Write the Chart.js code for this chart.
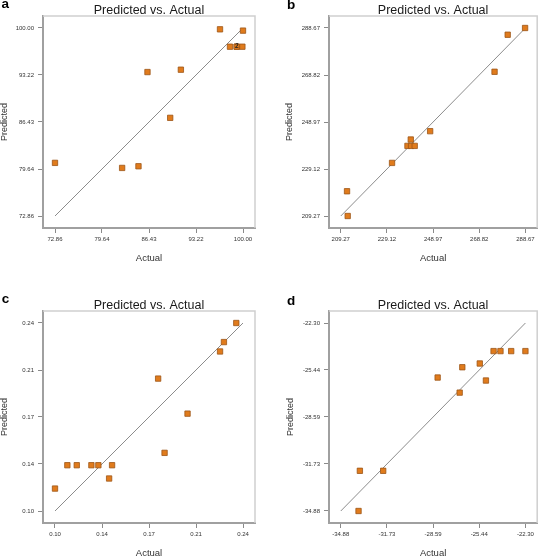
<!DOCTYPE html>
<html>
<head>
<meta charset="utf-8">
<script src="https://cdn.jsdelivr.net/npm/chart.js@4.4.1/dist/chart.umd.min.js"></script>
<style>
  html, body { margin: 0; padding: 0; background: #fff; overflow: hidden; }
  body { position: relative; width: 542px; height: 557px; }
  .panel { position: absolute; }
</style>
</head>
<body>
<div class="panel" style="left:0;top:0"><canvas id="chartA" width="271" height="278"></canvas></div>
<div class="panel" style="left:271px;top:0"><canvas id="chartB" width="271" height="278"></canvas></div>
<div class="panel" style="left:0;top:278px"><canvas id="chartC" width="271" height="290"></canvas></div>
<div class="panel" style="left:271px;top:278px"><canvas id="chartD" width="271" height="290"></canvas></div>
<script>
// Painel a
const ticksA = [72.86, 79.645, 86.43, 93.215, 100.00];
const tickLabelsA = ["72.86", "79.64", "86.43", "93.22", "100.00"];
const actualA = [72.86, 82.55, 84.91, 86.21, 91.03, 89.49, 96.68, 100.00, 98.12, 99.09, 99.09, 99.91];
const predictedA = [80.53, 79.80, 80.04, 93.64, 93.98, 87.03, 99.81, 99.62, 97.30, 97.30, 97.30, 97.30];
const countsA = [{ x: 99.09, y: 97.30, n: "2" }];

// Painel b
const ticksB = [209.27, 229.12, 248.97, 268.82, 288.67];
const tickLabelsB = ["209.27", "229.12", "248.97", "268.82", "288.67"];
const actualB = [211.95, 212.24, 231.31, 237.95, 239.37, 239.50, 241.06, 247.70, 275.40, 281.05, 288.53];
const predictedB = [219.71, 209.27, 231.69, 238.88, 241.56, 238.88, 238.88, 245.09, 270.18, 285.83, 288.67];

// Painel c
const ticksC = [0.10, 0.135, 0.17, 0.205, 0.24];
const tickLabelsC = ["0.10", "0.14", "0.17", "0.21", "0.24"];
const actualC = [0.1000, 0.1092, 0.1162, 0.1271, 0.1323, 0.1425, 0.1403, 0.1768, 0.1816, 0.1987, 0.2229, 0.2258, 0.2350];
const predictedC = [0.1167, 0.1341, 0.1341, 0.1341, 0.1341, 0.1341, 0.1242, 0.1986, 0.1433, 0.1725, 0.2188, 0.2258, 0.2400];

// Painel d
const ticksD = [-34.88, -31.735, -28.59, -25.445, -22.30];
const tickLabelsD = ["-34.88", "-31.73", "-28.59", "-25.44", "-22.30"];
const actualD = [-33.67, -33.58, -31.99, -28.28, -26.78, -26.60, -25.41, -24.99, -24.47, -24.00, -23.27, -22.30];
const predictedD = [-34.88, -32.19, -32.19, -25.95, -26.96, -25.26, -25.01, -26.15, -24.18, -24.18, -24.18, -24.18];

const fontFamily = "'Liberation Sans', Arial, Helvetica, sans-serif";

// moldura clara (topo e direita) + título + letra do painel + contagens
const panelPlugin = {
  id: "panelText",
  beforeDatasetsDraw(chart, args, opts) {
    const { ctx, chartArea: ca } = chart;
    ctx.save();
    ctx.strokeStyle = "#cfcfcf";
    ctx.lineWidth = 1.5;
    ctx.beginPath();
    ctx.moveTo(ca.left, ca.top);
    ctx.lineTo(ca.right, ca.top);
    ctx.lineTo(ca.right, ca.bottom);
    ctx.stroke();
    ctx.restore();
  },
  afterDraw(chart, args, opts) {
    const { ctx, chartArea: ca } = chart;
    ctx.save();
    ctx.fillStyle = "#1a1a1a";
    ctx.textAlign = "center";
    ctx.textBaseline = "alphabetic";
    ctx.font = "12.5px " + fontFamily;
    ctx.fillText(opts.title, (ca.left + ca.right) / 2, opts.titleY);
    ctx.textAlign = "left";
    ctx.fillStyle = "#000";
    ctx.font = "bold 13.5px " + fontFamily;
    ctx.fillText(opts.letter, opts.letterX, opts.letterY);
    (opts.counts || []).forEach(c => {
      ctx.font = "bold 6.5px " + fontFamily;
      ctx.textAlign = "center";
      ctx.textBaseline = "middle";
      ctx.fillStyle = "#222";
      ctx.fillText(c.n, chart.scales.x.getPixelForValue(c.x), chart.scales.y.getPixelForValue(c.y));
    });
    ctx.restore();
  }
};

function axis(ticks, labels, size, titleText, titlePad, isX) {
  const span = ticks[ticks.length - 1] - ticks[0];
  const pad = span * 12 / 188;
  return {
    type: "linear",
    min: ticks[0] - pad,
    max: ticks[ticks.length - 1] + pad,
    afterBuildTicks: scale => { scale.ticks = ticks.map(v => ({ value: v })); },
    afterFit: scale => { if (isX) scale.height = size; else scale.width = size; },
    ticks: {
      autoSkip: false,
      maxRotation: 0,
      padding: isX ? 2.5 : 4,
      color: "#333",
      font: { family: fontFamily, size: 6 },
      callback: (value, index) => labels[index]
    },
    grid: {
      drawOnChartArea: false,
      drawTicks: true,
      tickLength: 5,
      color: "#8a8a8a",
      lineWidth: 1
    },
    border: { display: true, color: "#a0a0a0", width: 2 },
    title: {
      display: true,
      text: titleText,
      color: "#333",
      font: { family: fontFamily, size: isX ? 9.5 : 9, lineHeight: 1 },
      padding: isX ? { top: 0, bottom: titlePad } : { top: titlePad, bottom: 0 }
    }
  };
}

function makeChart(id, actual, predicted, ticks, labels, cfg) {
  const points = actual.map((v, i) => ({ x: v, y: predicted[i] }));
  new Chart(document.getElementById(id), {
    type: "scatter",
    data: {
      datasets: [{
        data: points,
        pointStyle: "rect",
        pointRadius: 3.8,
        pointBackgroundColor: "#e07b1c",
        pointBorderColor: "#9c5518",
        pointBorderWidth: 0.8
      }, {
        data: [{ x: ticks[0], y: ticks[0] }, { x: ticks[ticks.length - 1], y: ticks[ticks.length - 1] }],
        showLine: true,
        borderColor: "#6e6e6e",
        borderWidth: 0.8,
        pointRadius: 0
      }]
    },
    options: {
      responsive: false,
      animation: false,
      layout: { padding: cfg.padding },
      plugins: {
        legend: { display: false },
        tooltip: { enabled: false },
        panelText: {
          title: "Predicted vs. Actual",
          titleY: cfg.titleY,
          letter: cfg.letter,
          letterX: cfg.letterX,
          letterY: cfg.letterY,
          counts: cfg.counts
        }
      },
      scales: {
        x: axis(ticks, labels, cfg.xHeight, "Actual", cfg.xTitlePad, true),
        y: axis(ticks, labels, cfg.yWidth, "Predicted", cfg.yTitlePad, false)
      }
    },
    plugins: [panelPlugin]
  });
}

makeChart("chartA", actualA, predictedA, ticksA, tickLabelsA, {
  padding: { left: 0, right: 16, top: 16, bottom: 0 },
  yWidth: 43, xHeight: 50, xTitlePad: 15, yTitlePad: 0,
  titleY: 14, letter: "a", letterX: 1.5, letterY: 7.5, counts: countsA
});
makeChart("chartB", actualB, predictedB, ticksB, tickLabelsB, {
  padding: { left: 0, right: 1, top: 16, bottom: 0 },
  yWidth: 58, xHeight: 50, xTitlePad: 15, yTitlePad: 14,
  titleY: 14, letter: "b", letterX: 16, letterY: 9.3
});
makeChart("chartC", actualC, predictedC, ticksC, tickLabelsC, {
  padding: { left: 0, right: 16, top: 33, bottom: 0 },
  yWidth: 43, xHeight: 45, xTitlePad: 9.5, yTitlePad: 0,
  titleY: 31, letter: "c", letterX: 1.7, letterY: 25
});
makeChart("chartD", actualD, predictedD, ticksD, tickLabelsD, {
  padding: { left: 0, right: 1, top: 33, bottom: 0 },
  yWidth: 58, xHeight: 45, xTitlePad: 9.5, yTitlePad: 15,
  titleY: 31, letter: "d", letterX: 16, letterY: 26.7
});
</script>
</body>
</html>
